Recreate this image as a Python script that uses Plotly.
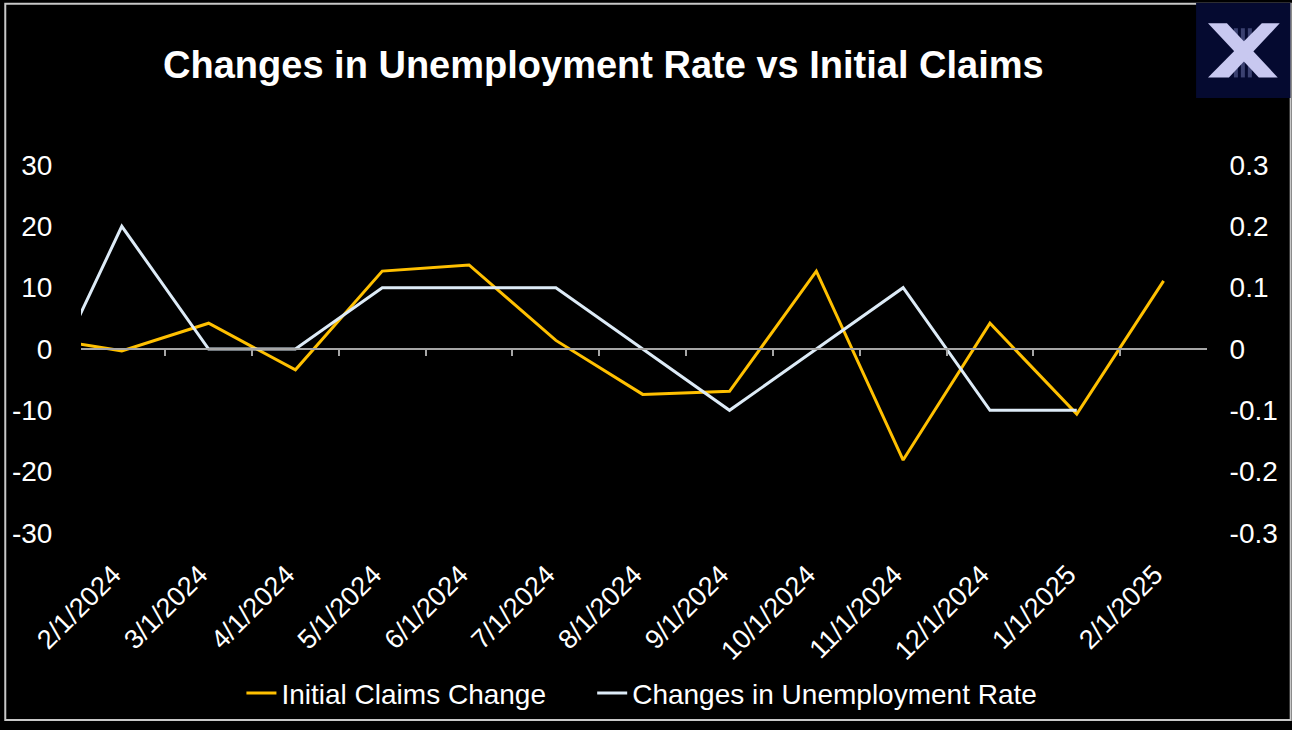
import base64
import plotly.graph_objects as go

# monthly points; the first (1/1/2024) sits just left of the visible range
months = ["1/1/2024", "2/1/2024", "3/1/2024", "4/1/2024", "5/1/2024", "6/1/2024", "7/1/2024",
          "8/1/2024", "9/1/2024", "10/1/2024", "11/1/2024", "12/1/2024", "1/1/2025", "2/1/2025"]
claims_change = [2.0, -0.3, 4.2, -3.4, 12.7, 13.7, 1.4, -7.4, -6.9, 12.7, -18.1, 4.2, -10.6, 11.1]
unemp_change = [-0.1, 0.2, 0.0, 0.0, 0.1, 0.1, 0.1, 0.0, -0.1, 0.0, 0.1, -0.1, -0.1, None]

left_ticks = [-30, -20, -10, 0, 10, 20, 30]
left_text = ["-30", "-20", "-10", "0", "10", "20", "30"]
right_ticks = [-0.3, -0.2, -0.1, 0, 0.1, 0.2, 0.3]
right_text = ["-0.3", "-0.2", "-0.1", "0", "0.1", "0.2", "0.3"]

idx = list(range(len(months)))
FONT = "Liberation Sans, Arial, sans-serif"

# plot area in pixels (paper coords are derived from these)
L, R, T, B = 77, 85, 165, 191
PW, PH = 1292 - L - R, 730 - T - B

def px_x(x):
    return (x - L) / PW

def px_y(y):
    return (730 - B - y) / PH

fig = go.Figure()
fig.add_trace(go.Scatter(x=idx, y=claims_change, mode="lines", name="Initial Claims Change",
                         line=dict(color="#FFC000", width=3), legend="legend"))
fig.add_trace(go.Scatter(x=idx, y=unemp_change, mode="lines", name="Changes in Unemployment Rate",
                         line=dict(color="#DDEBF7", width=3), yaxis="y2", legend="legend2"))
# dummy trace so the zero-line axis with its tick marks gets drawn
fig.add_trace(go.Scatter(x=[1], y=[0], mode="markers", marker=dict(opacity=0), xaxis="x2",
                         showlegend=False, hoverinfo="skip"))

xr = [0.53, 13.5]

# logo in the top right corner
logo_svg = """<svg xmlns='http://www.w3.org/2000/svg' width='95' height='97' viewBox='0 0 95 97'>
<rect width='95' height='97' fill='#050a30'/>
<rect x='38' y='26' width='4' height='50' fill='#3b4170'/>
<rect x='45' y='26' width='4' height='50' fill='#3b4170'/>
<rect x='52' y='26' width='4' height='50' fill='#3b4170'/>
<polygon points='12,21 31,21 82,76 63,76' fill='#c8c8f0'/>
<polygon points='66,21 84,21 33,76 12,76' fill='#c8c8f0'/>
</svg>"""
logo_src = "data:image/svg+xml;base64," + base64.b64encode(logo_svg.encode()).decode()

legend_style = dict(orientation="h", xanchor="left", y=px_y(702), yanchor="middle",
                    font=dict(size=28), bgcolor="rgba(0,0,0,0)", itemwidth=30)

fig.update_layout(
    width=1292, height=730,
    paper_bgcolor="black", plot_bgcolor="black",
    margin=dict(l=L, r=R, t=T, b=B),
    font=dict(family=FONT, color="white", size=22),
    title=dict(text="<b>Changes in Unemployment Rate vs Initial Claims</b>",
               x=0.467, xanchor="center", y=0.911, yanchor="middle",
               font=dict(size=38, color="white")),
    showlegend=True,
    legend=dict(x=px_x(238), **legend_style),
    legend2=dict(x=px_x(590), **legend_style),
    xaxis=dict(range=xr, tickmode="array", tickvals=[i - 0.1 for i in idx[1:]],
               ticktext=months[1:], tickangle=-45, showgrid=False, zeroline=False,
               showline=False, ticks="outside", ticklen=14, tickcolor="rgba(0,0,0,0)",
               tickfont=dict(size=27)),
    xaxis2=dict(range=xr, overlaying="x", anchor="free", position=0.5, side="bottom",
                tickmode="array", tickvals=[i + 0.5 for i in idx[:-1]], showticklabels=False,
                ticks="outside", ticklen=6, tickcolor="#A6A6A6", tickwidth=1.5,
                showline=True, linecolor="#A6A6A6", linewidth=1.5,
                showgrid=False, zeroline=False),
    yaxis=dict(range=[-30, 30], tickvals=left_ticks, ticktext=left_text, showgrid=False,
               zeroline=False, showline=False, ticks="outside", ticklen=22,
               tickcolor="rgba(0,0,0,0)", tickfont=dict(size=28)),
    yaxis2=dict(range=[-0.3, 0.3], tickvals=right_ticks, ticktext=right_text,
                overlaying="y", side="right", showgrid=False, zeroline=False,
                showline=False, ticks="outside", ticklen=16, tickcolor="rgba(0,0,0,0)",
                tickfont=dict(size=28)),
    images=[dict(source=logo_src, xref="paper", yref="paper",
                 x=px_x(1196), y=px_y(0), sizex=95 / PW, sizey=97 / PH,
                 xanchor="left", yanchor="top", sizing="stretch", layer="above")],
    shapes=[dict(type="rect", xref="paper", yref="paper",
                 x0=px_x(1), x1=px_x(1291), y0=px_y(729), y1=px_y(1),
                 line=dict(color="#C8C8C8", width=2), fillcolor="rgba(0,0,0,0)",
                 layer="below")],
)

fig.write_html("out.html", config={"displayModeBar": False},
               post_script="document.body.style.margin = '0';")
